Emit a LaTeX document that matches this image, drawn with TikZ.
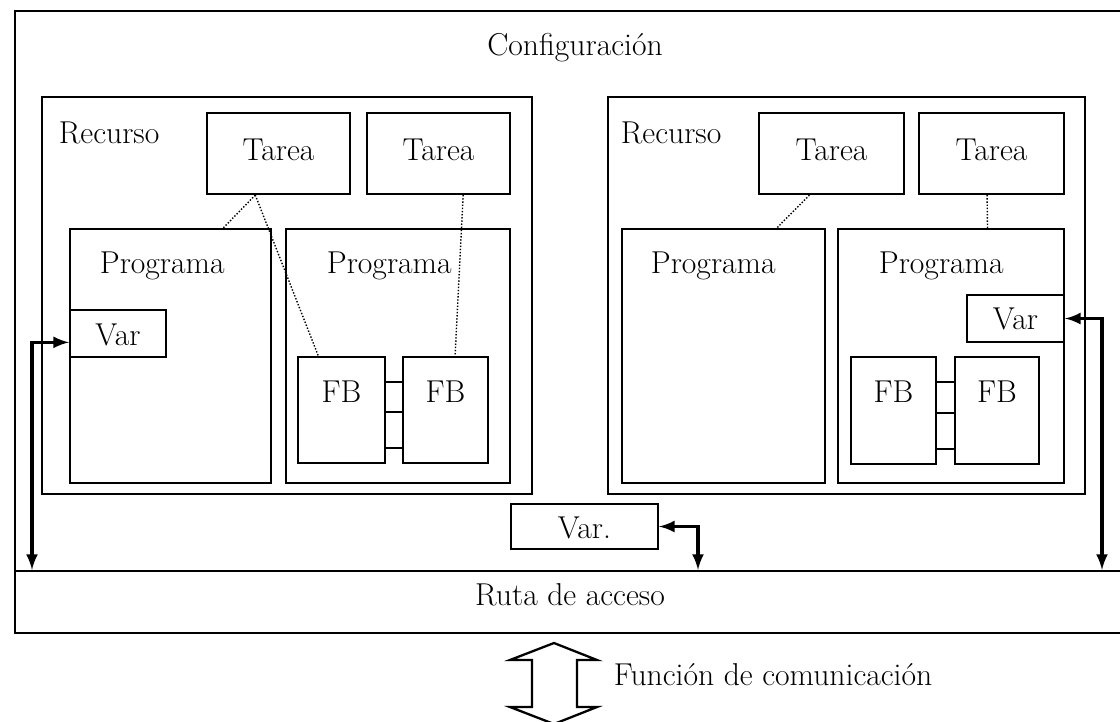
\documentclass[tikz,border=0pt]{standalone}
\usepackage{tikz}
\usetikzlibrary{arrows, calc, fit}

\begin{document}
\begin{tikzpicture}[
		x=0.02cm, y=-0.02cm,
		line width=1.2pt,
		every node/.style={font=\fontsize{18}{22}\selectfont},
		box/.style={draw, inner sep=0pt},
		frame/.style={draw, line width=1.4pt, inner sep=0pt},
		name label/.style={anchor=base west},
		box label/.style={anchor=base},
		task link/.style={line width=0.8pt, densely dotted},
		fb link/.style={line width=1.2pt},
		access/.style={<->, >=latex, line width=2pt}
		]

	\clip (0, 0) rectangle (1120, 721);

	% Configuration
	\node[frame, fit={(15, 11) (1135, 633)}] (config) {};
	\node[box label] (config label) at (575, 55) {Configuración};

	% Access path
	\node[frame, fit={(15, 571) (1135, 633)}] (ruta) {};
	\node[box label] (ruta label) at (570, 605) {Ruta de acceso};

	% Resource 1
	\node[box, fit={(42, 97) (532, 494)}] (res1) {};
	\node[name label] (res1 label) at (52, 143) {Recurso};
	\node[box, fit={(207, 113) (350, 194)}] (task1) {};
	\node[box label] (task1 label) at (278.5, 160) {Tarea};
	\node[box, fit={(367, 113) (510, 194)}] (task2) {};
	\node[box label] (task2 label) at (438.5, 160) {Tarea};
	\node[box, fit={(70, 229) (271, 483)}] (prog1) {};
	\node[name label] (prog1 label) at (93, 273) {Programa};
	\node[box, fit={(286, 229) (510, 483)}] (prog2) {};
	\node[name label] (prog2 label) at (320, 273) {Programa};
	\node[box, fit={(70, 310) (166, 357)}] (var1) {};
	\node[box label] (var1 label) at (118, 345) {Var};
	\node[box, fit={(298, 357) (385, 463)}] (fb1) {};
	\node[box label] (fb1 label) at (341.5, 402) {FB};
	\node[box, fit={(403, 357) (488, 463)}] (fb2) {};
	\node[box label] (fb2 label) at (445.5, 402) {FB};

	% Resource 2
	\node[box, fit={(608, 97) (1085, 494)}] (res2) {};
	\node[name label] (res2 label) at (614, 143) {Recurso};
	\node[box, fit={(759, 113) (904, 194)}] (task3) {};
	\node[box label] (task3 label) at (831.5, 160) {Tarea};
	\node[box, fit={(919, 113) (1064, 194)}] (task4) {};
	\node[box label] (task4 label) at (991.5, 160) {Tarea};
	\node[box, fit={(622, 229) (825, 483)}] (prog3) {};
	\node[name label] (prog3 label) at (644, 273) {Programa};
	\node[box, fit={(838, 229) (1064, 483)}] (prog4) {};
	\node[name label] (prog4 label) at (872, 273) {Programa};
	\node[box, fit={(967, 295) (1064, 342)}] (var2) {};
	\node[box label] (var2 label) at (1015.5, 329) {Var};
	\node[box, fit={(851, 357) (936, 464)}] (fb3) {};
	\node[box label] (fb3 label) at (893.5, 402) {FB};
	\node[box, fit={(955, 357) (1039, 464)}] (fb4) {};
	\node[box label] (fb4 label) at (997, 402) {FB};

	% Global variable
	\node[box, fit={(511, 504) (658, 549)}] (varg) {};
	\node[box label] (varg label) at (584.5, 538) {Var.};

	% Task links
	\draw[task link] ($(task1.south west)!0.34!(task1.south east)$) -- ($(prog1.north west)!0.76!(prog1.north east)$);
	\draw[task link] ($(task1.south west)!0.34!(task1.south east)$) -- ($(fb1.north west)!0.24!(fb1.north east)$);
	\draw[task link] ($(task2.south west)!0.67!(task2.south east)$) -- ($(fb2.north west)!0.61!(fb2.north east)$);
	\draw[task link] ($(task3.south west)!0.35!(task3.south east)$) -- ($(prog3.north west)!0.76!(prog3.north east)$);
	\draw[task link] ($(task4.south west)!0.47!(task4.south east)$) -- ($(prog4.north west)!0.66!(prog4.north east)$);

	% FB connections
	\foreach \f in {0.24, 0.52, 0.85}{
		\draw[fb link] ($(fb1.north east)!\f!(fb1.south east)$) -- ($(fb2.north west)!\f!(fb2.south west)$);
		\draw[fb link] ($(fb3.north east)!\f!(fb3.south east)$) -- ($(fb4.north west)!\f!(fb4.south west)$);
	}

	% Access to variables
	\coordinate (left bus) at (32, 0);
	\coordinate (mid bus) at (698, 0);
	\coordinate (right bus) at (1102, 0);
	\draw[access] ($(var1.north west)!0.68!(var1.south west)$) -| (ruta.north -| left bus);
	\draw[access] (varg.east) -| (ruta.north -| mid bus);
	\draw[access] (var2.east) -| (ruta.north -| right bus);

	% Communication function
	\draw[line width=1.3pt] (554, 643) -- (597, 660) -- (577, 660) -- (577, 707) -- (597, 707)
		-- (554, 724) -- (510, 707) -- (532, 707) -- (532, 660) -- (510, 660) -- cycle;
	\node[name label] (comm label) at (607, 685) {Función de comunicación};

\end{tikzpicture}
\end{document}
